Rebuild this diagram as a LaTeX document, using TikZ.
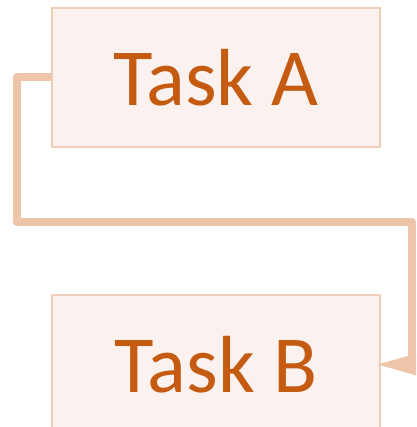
\documentclass[tikz,border=0pt]{standalone}
\usepackage{fontspec}
\setmainfont{Carlito}
\definecolor{boxfill}{HTML}{FBF1EE}
\definecolor{boxline}{HTML}{F0CDB6}
\definecolor{txt}{HTML}{C55A11}
\definecolor{conn}{HTML}{EDC6AA}
\begin{document}
\begin{tikzpicture}[x=1pt,y=-1pt,
  taskbox/.style={draw=boxline,line width=1.5pt,fill=boxfill,text=txt,
    minimum width=328pt,minimum height=139pt,inner sep=0pt,
    font=\fontsize{81}{90}\selectfont},
  connline/.style={draw=conn,line width=8pt,line join=round}]
\useasboundingbox (0,0) rectangle (416,427);
\clip (0,0) rectangle (416,427);
\node[taskbox] (A) at (216,77.5) {Task A};
\node[taskbox] (B) at (216,364.5) {Task B};
\coordinate (lft) at (17,222);
\coordinate (rgt) at (412,222);
\draw[connline] (A.west) -| (lft) -- (rgt) |- ([xshift=20pt]B.east);
\fill[conn] ([xshift=-3pt]B.east) -- ++(53,-15) -- ++(0,30) -- cycle;
\end{tikzpicture}
\end{document}
